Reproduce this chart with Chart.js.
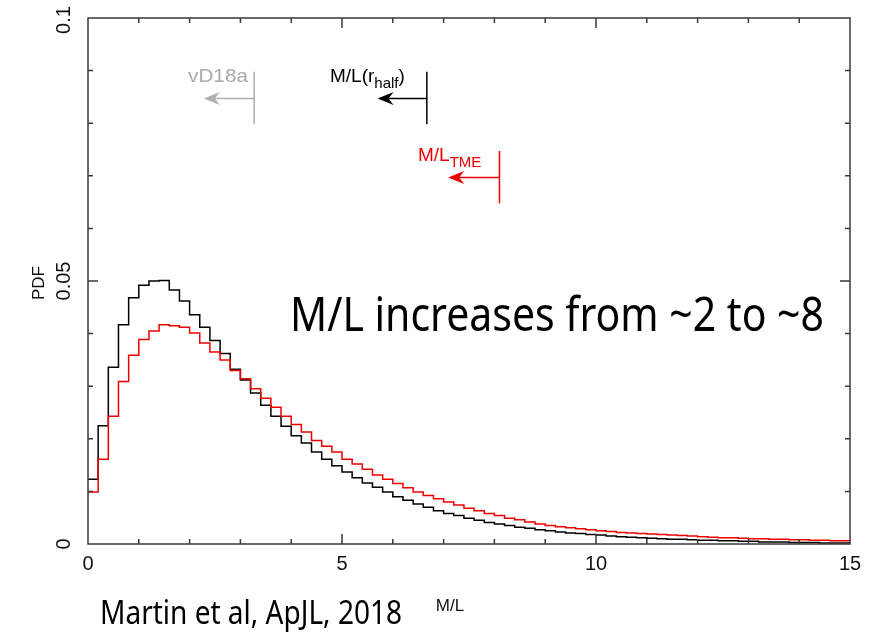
<!DOCTYPE html>
<html>
<head>
<meta charset="utf-8">
<script src="https://cdn.jsdelivr.net/npm/chart.js@4.4.1/dist/chart.umd.min.js"></script>
<style>
  html, body { margin: 0; padding: 0; background: #fff; }
</style>
</head>
<body>
<canvas id="pdfChart" width="875" height="634"></canvas>
<script>
// --- DATA ---
// histogram bins of M/L, 0.2 wide, from 0 to 15
const mlBinLefts = Array.from({ length: 75 }, (_, i) => Math.round(i * 2) / 10);
const mlMax = 15;

// black: M/L(r_half)
const pdfHalf = [
  0.0123, 0.0225, 0.0336, 0.0417, 0.0468, 0.0492, 0.0500, 0.0501, 0.0483, 0.0462,
  0.0436, 0.0412, 0.0387, 0.0362, 0.0332, 0.0312, 0.0287, 0.0264, 0.0243, 0.0224,
  0.0206, 0.0192, 0.0175, 0.0161, 0.0149, 0.0137, 0.0126, 0.0116, 0.0108, 0.0099,
  0.0090, 0.0083, 0.0076, 0.0070, 0.0063, 0.0058, 0.0054, 0.0049, 0.0045, 0.0041,
  0.0038, 0.0035, 0.0032, 0.0030, 0.0027, 0.0025, 0.0023, 0.0021, 0.0020, 0.0018,
  0.0017, 0.0015, 0.0014, 0.0013, 0.0012, 0.0011, 0.0010, 0.0009, 0.0009, 0.0008,
  0.0007, 0.0007, 0.0006, 0.0006, 0.0005, 0.0005, 0.0004, 0.0004, 0.0004, 0.0003,
  0.0003, 0.0003, 0.0002, 0.0002, 0.0002
];

// red: M/L_TME
const pdfTME = [
  0.0099, 0.0161, 0.0243, 0.0309, 0.0359, 0.0389, 0.0405, 0.0417, 0.0415, 0.0412,
  0.0401, 0.0382, 0.0365, 0.0350, 0.0330, 0.0314, 0.0295, 0.0277, 0.0260, 0.0243,
  0.0227, 0.0213, 0.0197, 0.0186, 0.0175, 0.0161, 0.0152, 0.0142, 0.0131, 0.0123,
  0.0115, 0.0107, 0.0099, 0.0092, 0.0086, 0.0080, 0.0074, 0.0068, 0.0063, 0.0058,
  0.0054, 0.0049, 0.0046, 0.0042, 0.0038, 0.0035, 0.0033, 0.0031, 0.0029, 0.0027,
  0.0025, 0.0024, 0.0022, 0.0021, 0.0020, 0.0019, 0.0018, 0.0017, 0.0016, 0.0015,
  0.0014, 0.0013, 0.0012, 0.0012, 0.0011, 0.0010, 0.0010, 0.0009, 0.0009, 0.0008,
  0.0008, 0.0007, 0.0007, 0.0006, 0.0006
];

const xTickValues = [0, 5, 10, 15];
const xTickLabels = ['0', '5', '10', '15'];
const yTickValues = [0, 0.05, 0.1];
const yTickLabels = ['0', '0.05', '0.1'];

// arrow markers: bar position, arrow tip, bar y-range, arrow height (data units)
const markers = [
  { x: 3.27, tip: 2.28, y0: 0.0798, y1: 0.0898, ya: 0.0847, color: '#b0b0b0' },
  { x: 6.67, tip: 5.70, y0: 0.0798, y1: 0.0898, ya: 0.0847, color: '#000000' },
  { x: 8.10, tip: 7.09, y0: 0.0648, y1: 0.0747, ya: 0.0697, color: '#ee0000' }
];

function toSteps(values) {
  const pts = mlBinLefts.map((x, i) => ({ x: x, y: values[i] }));
  pts.push({ x: mlMax, y: values[values.length - 1] });
  return pts;
}

const TICK_FONT = '20px "Liberation Sans", sans-serif';
const NOTE_FONT = '19px "Liberation Sans", sans-serif';
const SUB_FONT = '15px "Liberation Sans", sans-serif';

function fitText(ctx, text, x, y, width, font) {
  ctx.font = font;
  const w = ctx.measureText(text).width;
  ctx.save();
  ctx.translate(x, y);
  ctx.scale(width / w, 1);
  ctx.fillText(text, 0, 0);
  ctx.restore();
}

function drawArrowHead(ctx, xt, y) {
  ctx.beginPath();
  ctx.moveTo(xt, y);
  ctx.lineTo(xt + 16, y - 6.5);
  ctx.lineTo(xt + 11, y);
  ctx.lineTo(xt + 16, y + 6.5);
  ctx.closePath();
  ctx.fill();
}

// --- frame, ticks, labels and annotations ---
const framePlugin = {
  id: 'frame',
  afterDraw(chart) {
    const ctx = chart.ctx;
    const a = chart.chartArea;
    const xs = chart.scales.x;
    const ys = chart.scales.y;
    ctx.save();

    ctx.strokeStyle = '#3a3a3a';
    ctx.lineWidth = 1.5;
    ctx.strokeRect(a.left, a.top, a.right - a.left, a.bottom - a.top);

    ctx.beginPath();
    for (let v = 1; v < 15; v++) {
      const px = xs.getPixelForValue(v);
      const len = v % 5 === 0 ? 10 : 5;
      ctx.moveTo(px, a.bottom); ctx.lineTo(px, a.bottom - len);
      ctx.moveTo(px, a.top); ctx.lineTo(px, a.top + len);
    }
    for (let k = 1; k < 10; k++) {
      const py = ys.getPixelForValue(k / 100);
      const len = k % 5 === 0 ? 10 : 5;
      ctx.moveTo(a.left, py); ctx.lineTo(a.left + len, py);
      ctx.moveTo(a.right, py); ctx.lineTo(a.right - len, py);
    }
    ctx.stroke();

    // tick labels
    ctx.fillStyle = '#111';
    ctx.font = TICK_FONT;
    ctx.textAlign = 'center';
    ctx.textBaseline = 'middle';
    xTickValues.forEach((v, i) => {
      ctx.fillText(xTickLabels[i], xs.getPixelForValue(v), 564);
    });
    yTickValues.forEach((v, i) => {
      ctx.save();
      ctx.translate(64, ys.getPixelForValue(v) + (i === 2 ? 2 : 0));
      ctx.rotate(-Math.PI / 2);
      ctx.fillText(yTickLabels[i], 0, 0);
      ctx.restore();
    });

    // axis titles
    ctx.font = '17px "Liberation Sans", sans-serif';
    ctx.fillText('M/L', 450, 606);
    ctx.save();
    ctx.translate(39, 283);
    ctx.rotate(-Math.PI / 2);
    ctx.fillText('PDF', 0, 0);
    ctx.restore();

    // markers
    markers.forEach(m => {
      const bx = xs.getPixelForValue(m.x);
      const tx = xs.getPixelForValue(m.tip);
      const ay = ys.getPixelForValue(m.ya);
      ctx.strokeStyle = m.color;
      ctx.fillStyle = m.color;
      ctx.lineWidth = 1.5;
      ctx.beginPath();
      ctx.moveTo(bx, ys.getPixelForValue(m.y0));
      ctx.lineTo(bx, ys.getPixelForValue(m.y1));
      ctx.moveTo(bx, ay);
      ctx.lineTo(tx + 8, ay);
      ctx.stroke();
      drawArrowHead(ctx, tx, ay);
    });

    ctx.textAlign = 'left';
    ctx.textBaseline = 'alphabetic';

    ctx.fillStyle = '#aaaaaa';
    fitText(ctx, 'vD18a', 188, 82, 60, NOTE_FONT);

    // M/L(r_half)
    ctx.fillStyle = '#000';
    let x = 330;
    ctx.font = NOTE_FONT;
    ctx.fillText('M/L(r', x, 82);
    x += ctx.measureText('M/L(r').width;
    ctx.font = SUB_FONT;
    ctx.fillText('half', x, 88);
    x += ctx.measureText('half').width;
    ctx.font = NOTE_FONT;
    ctx.fillText(')', x, 82);

    // M/L_TME
    ctx.fillStyle = '#ee0000';
    x = 418;
    ctx.font = NOTE_FONT;
    ctx.fillText('M/L', x, 161);
    x += ctx.measureText('M/L').width;
    ctx.font = SUB_FONT;
    ctx.fillText('TME', x, 167);

    // slide texts
    ctx.fillStyle = '#000';
    fitText(ctx, 'M/L increases from ~2 to ~8', 290, 331, 534, '47px "Noto Sans", sans-serif');
    fitText(ctx, 'Martin et al, ApJL, 2018', 100, 624, 302, '33px "Noto Sans", sans-serif');

    ctx.restore();
  }
};

const ctx = document.getElementById('pdfChart').getContext('2d');
new Chart(ctx, {
  type: 'line',
  data: {
    datasets: [
      {
        label: 'M/L_TME',
        data: toSteps(pdfTME),
        borderColor: '#ee0000',
        borderWidth: 1.5,
        stepped: 'before',
        pointRadius: 0,
        fill: false
      },
      {
        label: 'M/L(r_half)',
        data: toSteps(pdfHalf),
        borderColor: '#000000',
        borderWidth: 1.5,
        stepped: 'before',
        pointRadius: 0,
        fill: false
      }
    ]
  },
  options: {
    responsive: false,
    animation: false,
    events: [],
    layout: { padding: { left: 88, right: 25, top: 18, bottom: 90 } },
    plugins: {
      legend: { display: false },
      tooltip: { enabled: false }
    },
    scales: {
      x: {
        type: 'linear', min: 0, max: 15,
        ticks: { display: false },
        grid: { display: false, drawTicks: false },
        border: { display: false },
        afterFit: s => { s.height = 0; }
      },
      y: {
        type: 'linear', min: 0, max: 0.1,
        ticks: { display: false },
        grid: { display: false, drawTicks: false },
        border: { display: false },
        afterFit: s => { s.width = 0; }
      }
    }
  },
  plugins: [framePlugin]
});
</script>
</body>
</html>
